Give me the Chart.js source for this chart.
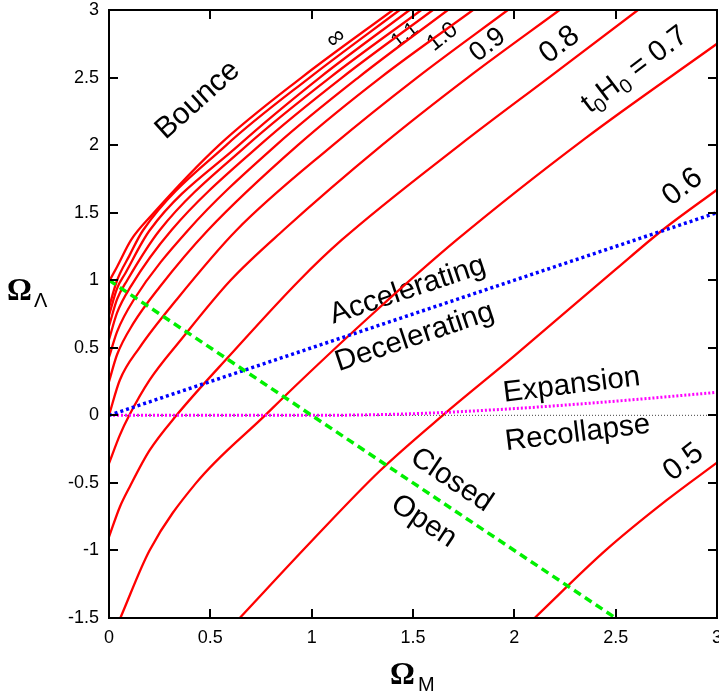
<!DOCTYPE html>
<html>
<head>
<meta charset="utf-8">
<script src="https://cdn.jsdelivr.net/npm/chart.js@4/dist/chart.umd.min.js"></script>
<style>
  html, body { margin: 0; padding: 0; background: #fff; }
  canvas { display: block; }
</style>
</head>
<body>
<canvas id="plane" width="719" height="698"></canvas>
<script>
// axis ticks
const omegaMTicks = [0, 0.5, 1, 1.5, 2, 2.5, 3];
const omegaMTickLabels = ["0", "0.5", "1", "1.5", "2", "2.5", "3"];
const omegaLTicks = [-1.5, -1, -0.5, 0, 0.5, 1, 1.5, 2, 2.5, 3];
const omegaLTickLabels = ["-1.5", "-1", "-0.5", "0", "0.5", "1", "1.5", "2", "2.5", "3"];

// constant-age contours t0H0, points [Omega_M, Omega_Lambda]
const ageInf = [[0, 0.99], [0.04, 1.10], [0.11, 1.30], [0.21, 1.48], [0.543, 2.0], [0.95, 2.5], [1.401, 3]];
const age16 = [[0, 0.80], [0.04, 1.0], [0.10, 1.18], [0.168, 1.37], [0.579, 2.0], [0.99, 2.5], [1.434, 3]];
const age15 = [[0, 0.74], [0.04, 0.94], [0.08, 1.05], [0.201, 1.37], [0.641, 2.0], [1.04, 2.5], [1.483, 3]];
const age14 = [[0, 0.66], [0.04, 0.86], [0.09, 1.0], [0.25, 1.37], [0.682, 2.0], [1.09, 2.5], [1.541, 3]];
const age13 = [[0, 0.56], [0.04, 0.76], [0.11, 0.96], [0.308, 1.37], [0.744, 2.0], [1.15, 2.5], [1.598, 3]];
const age12 = [[0, 0.43], [0.04, 0.62], [0.12, 0.85], [0.39, 1.37], [0.825, 2.0], [1.23, 2.5], [1.672, 3]];
const age11 = [[0, 0.25], [0.04, 0.45], [0.12, 0.68], [0.25, 0.95], [0.488, 1.37], [0.932, 2.0], [1.34, 2.5], [1.796, 3]];
const age10 = [[0, 0], [0.053, 0.26], [0.15, 0.5], [0.33, 0.85], [0.629, 1.37], [1.105, 2.0], [1.52, 2.5], [1.968, 3]];
const age09 = [[0, -0.356], [0.053, -0.148], [0.1, 0], [0.2, 0.26], [0.35, 0.55], [0.6, 1.0], [0.86, 1.37], [1.347, 2.0], [1.77, 2.5], [2.223, 3]];
const age08 = [[0, -0.9], [0.053, -0.68], [0.102, -0.53], [0.2, -0.26], [0.333, 0], [0.6, 0.45], [0.94, 1.0], [1.147, 1.296], [1.73, 2.0], [2.17, 2.5], [2.61, 3]];
const age07 = [[0.056, -1.5], [0.2, -1.0], [0.43, -0.5], [0.77, 0], [0.94, 0.247], [1.3, 0.75], [1.714, 1.296], [2.35, 2.05], [3, 2.75]];
const age06 = [[0.645, -1.5], [1.0, -0.93], [1.337, -0.41], [1.647, 0], [2.0, 0.44], [2.5, 1.08], [2.73, 1.37], [3, 1.67]];
const age05 = [[2.1, -1.5], [2.45, -1.0], [2.75, -0.63], [3, -0.35]];
const ageCurves = [ageInf, age16, age15, age14, age13, age12, age11, age10, age09, age08, age07, age06, age05];

// boundaries
const flatLine = [[0, 1], [2.5, -1.5]];
const accelLine = [[0, 0], [3, 1.5]];
const recollapseLine = [[0, 0], [1, 0], [1.5, 0.012], [2, 0.05], [2.5, 0.105], [3, 0.17]];
const zeroLine = [[0, 0], [3, 0]];

const toXY = (pts) => pts.map(([x, y]) => ({ x, y }));

const sans = '"Liberation Sans", Arial, sans-serif';

// text written on the plane, placed in data coordinates
const planeText = [
  { parts: [["Bounce"]], x: 0.438, y: 2.333, rot: -42, size: 30 },
  { parts: [["\u221e"]], x: 1.12, y: 2.79, rot: -38, size: 25 },
  { parts: [["1.1"]], x: 1.46, y: 2.815, rot: -38, size: 20 },
  { parts: [["1.0"]], x: 1.646, y: 2.80, rot: -38, size: 23 },
  { parts: [["0.9"]], x: 1.868, y: 2.741, rot: -38, size: 27 },
  { parts: [["0.8"]], x: 2.223, y: 2.741, rot: -38, size: 30 },
  { parts: [["t"], ["0", true], ["H"], ["0", true], [" = 0.7"]], x: 2.594, y: 2.556, rot: -37, size: 29 },
  { parts: [["0.6"]], x: 2.83, y: 1.689, rot: -38, size: 30 },
  { parts: [["0.5"]], x: 2.835, y: -0.348, rot: -38, size: 30 },
  { parts: [["Accelerating"]], x: 1.474, y: 0.926, rot: -18.5, size: 29.5 },
  { parts: [["Decelerating"]], x: 1.508, y: 0.578, rot: -18.5, size: 29.5 },
  { parts: [["Expansion"]], x: 2.283, y: 0.222, rot: -7, size: 29.5 },
  { parts: [["Recollapse"]], x: 2.312, y: -0.133, rot: -7, size: 29.5 },
  { parts: [["Closed"]], x: 1.69, y: -0.48, rot: 33.7, size: 29.5 },
  { parts: [["Open"]], x: 1.553, y: -0.785, rot: 33.7, size: 29.5 },
];

const textPlugin = {
  id: "planeText",
  beforeDatasetsDraw(chart) {
    const { ctx, scales: { x, y } } = chart;
    ctx.save();
    ctx.fillStyle = "#000";
    ctx.textBaseline = "middle";
    ctx.textAlign = "left";
    planeText.forEach((t) => {
      const subSize = Math.round(t.size * 0.68);
      let w = 0;
      t.parts.forEach(([s, sub]) => {
        ctx.font = (sub ? subSize : t.size) + "px " + sans;
        w += ctx.measureText(s).width;
      });
      ctx.save();
      ctx.translate(x.getPixelForValue(t.x), y.getPixelForValue(t.y));
      ctx.rotate((t.rot * Math.PI) / 180);
      let cx = -w / 2;
      t.parts.forEach(([s, sub]) => {
        ctx.font = (sub ? subSize : t.size) + "px " + sans;
        ctx.fillText(s, cx, sub ? t.size * 0.3 : 0);
        cx += ctx.measureText(s).width;
      });
      ctx.restore();
    });
    ctx.restore();
  },
};

const framePlugin = {
  id: "frame",
  afterDraw(chart) {
    const { ctx, chartArea: a, scales: { x, y } } = chart;
    ctx.save();
    ctx.strokeStyle = "#000";
    ctx.lineWidth = 2;
    ctx.beginPath();
    omegaMTicks.forEach((v) => {
      const px = Math.round(x.getPixelForValue(v));
      ctx.moveTo(px, a.bottom); ctx.lineTo(px, a.bottom - 9);
      ctx.moveTo(px, a.top); ctx.lineTo(px, a.top + 9);
    });
    omegaLTicks.forEach((v) => {
      const py = Math.round(y.getPixelForValue(v));
      ctx.moveTo(a.left, py); ctx.lineTo(a.left + 9, py);
      ctx.moveTo(a.right, py); ctx.lineTo(a.right - 9, py);
    });
    ctx.stroke();
    ctx.strokeRect(a.left, a.top, a.right - a.left, a.bottom - a.top);

    // axis titles
    ctx.fillStyle = "#000";
    ctx.textBaseline = "alphabetic";
    ctx.textAlign = "left";
    ctx.font = 'bold 31px "Liberation Serif", "Times New Roman", serif';
    ctx.fillText("\u03a9", 390, 684);
    ctx.fillText("\u03a9", 7, 300);
    ctx.font = "20px " + sans;
    ctx.fillText("M", 418, 691);
    ctx.fillText("\u039b", 34, 307);
    ctx.restore();
  },
};

const redSets = ageCurves.map((pts) => ({
  data: toXY(pts),
  borderColor: "#ff0000",
  borderWidth: 2.3,
  pointRadius: 0,
  cubicInterpolationMode: "monotone",
  order: 5,
}));

new Chart(document.getElementById("plane").getContext("2d"), {
  type: "line",
  data: {
    datasets: [
      {
        data: toXY(flatLine),
        borderColor: "#00f000",
        borderWidth: 3.5,
        borderDash: [8, 5],
        pointRadius: 0,
        order: 1,
      },
      {
        data: toXY(accelLine),
        borderColor: "#0000ff",
        borderWidth: 3.5,
        borderDash: [3, 3],
        pointRadius: 0,
        order: 2,
      },
      {
        data: toXY(recollapseLine),
        borderColor: "#ff00ff",
        borderWidth: 3,
        borderDash: [2, 2],
        pointRadius: 0,
        cubicInterpolationMode: "monotone",
        order: 3,
      },
      {
        data: toXY(zeroLine),
        borderColor: "#444",
        borderWidth: 1,
        borderDash: [1, 2],
        pointRadius: 0,
        order: 4,
      },
      ...redSets,
    ],
  },
  options: {
    responsive: false,
    animation: false,
    layout: { padding: { left: 0, right: 2, top: 10, bottom: 0 } },
    scales: {
      x: {
        type: "linear",
        min: 0,
        max: 3,
        afterFit: (s) => { s.height = 80; s.paddingLeft = 0; s.paddingRight = 0; },
        afterBuildTicks: (s) => { s.ticks = omegaMTicks.map((v) => ({ value: v })); },
        grid: { display: false, drawTicks: false },
        border: { display: false },
        ticks: {
          padding: 9,
          color: "#000",
          font: { family: sans, size: 18 },
          maxRotation: 0,
          callback: (v) => omegaMTickLabels[omegaMTicks.indexOf(v)],
        },
      },
      y: {
        type: "linear",
        min: -1.5,
        max: 3,
        afterFit: (s) => { s.width = 109; s.paddingTop = 0; s.paddingBottom = 0; },
        afterBuildTicks: (s) => { s.ticks = omegaLTicks.map((v) => ({ value: v })); },
        grid: { display: false, drawTicks: false },
        border: { display: false },
        ticks: {
          padding: 10,
          color: "#000",
          font: { family: sans, size: 18 },
          callback: (v) => omegaLTickLabels[omegaLTicks.indexOf(v)],
        },
      },
    },
    plugins: {
      legend: { display: false },
      tooltip: { enabled: false },
    },
  },
  plugins: [textPlugin, framePlugin],
});
</script>
</body>
</html>
